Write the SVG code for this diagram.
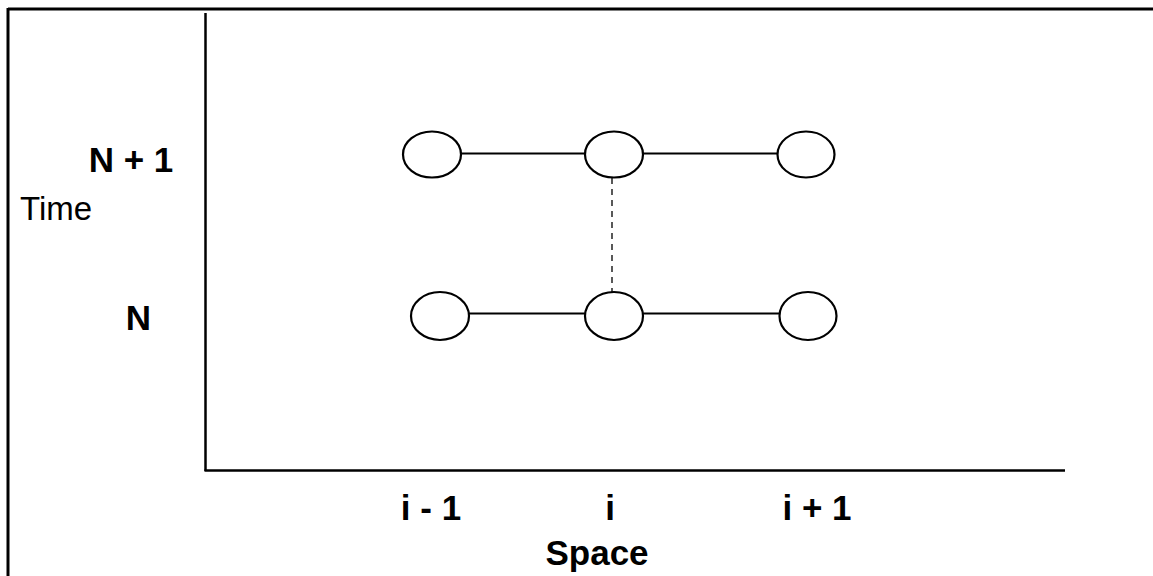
<svg xmlns="http://www.w3.org/2000/svg" width="1153" height="576" viewBox="0 0 1153 576">
<style>
.frame{fill:none;stroke:#000;stroke-width:3}
.axis{fill:none;stroke:#000;stroke-width:2.5}
.node{fill:#fff;stroke:#000;stroke-width:2.2}
.edge{fill:none;stroke:#000;stroke-width:1.8}
.dash{fill:none;stroke:#000;stroke-width:1.3;stroke-dasharray:6,5}
.b{font-family:"Liberation Sans",Arial,sans-serif;font-weight:bold;font-size:35px;fill:#000}
.r{font-family:"Liberation Sans",Arial,sans-serif;font-size:33px;fill:#000}
</style>
<rect width="1153" height="576" fill="#fff"/>
<g id="frame">
<line class="frame" x1="8" y1="9" x2="1153" y2="9"/>
<line class="frame" x1="8" y1="8" x2="8" y2="576"/>
</g>
<g id="axes">
<line class="axis" x1="205.5" y1="13" x2="205.5" y2="471"/>
<line class="axis" x1="204.5" y1="470.5" x2="1065" y2="470.5"/>
</g>
<g id="connectors">
<line class="edge" x1="461" y1="153.5" x2="585" y2="153.5"/>
<line class="edge" x1="643" y1="153.5" x2="777" y2="153.5"/>
<line class="edge" x1="469" y1="313.5" x2="585" y2="313.5"/>
<line class="edge" x1="643" y1="313.5" x2="779" y2="313.5"/>
<line class="dash" x1="612" y1="178" x2="612" y2="292"/>
</g>
<g id="node-n1-im1"><ellipse class="node" cx="432" cy="154.5" rx="29" ry="23"/></g>
<g id="node-n1-i"><ellipse class="node" cx="614" cy="154.5" rx="29" ry="23"/></g>
<g id="node-n1-ip1"><ellipse class="node" cx="806" cy="154.5" rx="28.5" ry="23"/></g>
<g id="node-n-im1"><ellipse class="node" cx="440" cy="316" rx="29" ry="24"/></g>
<g id="node-n-i"><ellipse class="node" cx="614" cy="316" rx="29" ry="24"/></g>
<g id="node-n-ip1"><ellipse class="node" cx="808" cy="316" rx="28.5" ry="24"/></g>
<g id="labels">
<text class="b" x="131" y="172" text-anchor="middle">N + 1</text>
<text class="b" x="138.5" y="330" text-anchor="middle">N</text>
<text class="r" x="20" y="220">Time</text>
<text class="b" x="431" y="520" text-anchor="middle">i - 1</text>
<text class="b" x="610" y="520" text-anchor="middle">i</text>
<text class="b" x="817" y="520" text-anchor="middle">i + 1</text>
<text class="b" x="597" y="565" text-anchor="middle">Space</text>
</g>
</svg>
